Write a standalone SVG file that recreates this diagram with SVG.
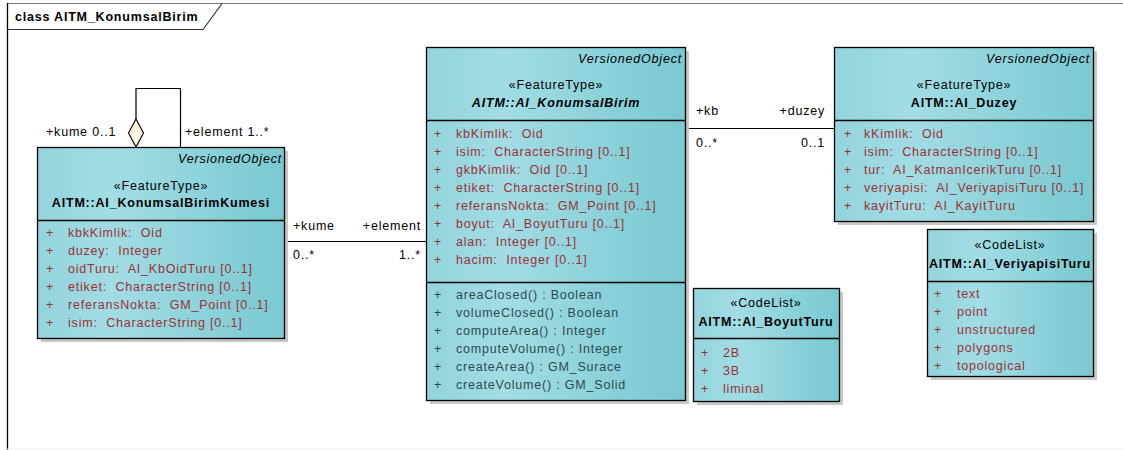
<svg xmlns="http://www.w3.org/2000/svg" width="1123" height="450" viewBox="0 0 1123 450">
  <defs>
    <linearGradient id="classFill" x1="0" y1="0" x2="1" y2="0">
      <stop offset="0" stop-color="#93D4DD"/>
      <stop offset="0.3" stop-color="#A2DCE5"/>
      <stop offset="1" stop-color="#79C9D1"/>
    </linearGradient>
  </defs>
  <style>
    text { font-family: "Liberation Sans", Arial, sans-serif; font-size: 12.5px; letter-spacing: 0.8px; fill: #000; white-space: pre; }
    .box { fill: url(#classFill); stroke: #000; stroke-width: 1.3; }
    .shadow { fill: #C8C8C8; }
    .div { stroke: #000; stroke-width: 1.3; }
    .attr { fill: #993333; }
    .op { fill: #2E4A50; }
    .it { font-style: italic; }
    .bold { font-weight: bold; }
    .mid { text-anchor: middle; }
    .end { text-anchor: end; }
    .conn { fill: none; stroke: #000; stroke-width: 1.2; }
  </style>

  <rect width="1123" height="450" fill="#FFFFFF"/>

  <!-- diagram frame -->
  <g id="frame">
    <line x1="7" y1="3.5" x2="1123" y2="3.5" stroke="#777" stroke-width="1.2"/>
    <line x1="7.5" y1="3" x2="7.5" y2="450" stroke="#000" stroke-width="1.3"/>
    <line x1="7" y1="449" x2="1123" y2="449" stroke="#EEE" stroke-width="1"/>
    <polyline points="7,29.5 203,29.5 222,3.5" fill="none" stroke="#333" stroke-width="1.2"/>
    <text x="15" y="21" class="bold">class AITM_KonumsalBirim</text>
  </g>

  <!-- connectors -->
  <g id="connectors">
    <!-- self aggregation on AI_KonumsalBirimKumesi -->
    <polyline class="conn" points="136,119 136,88.5 180.5,88.5 180.5,147"/>
    <polygon points="136,119 143.5,133 136,147 128.5,133" fill="#FDF3E3" stroke="#000" stroke-width="1.1"/>
    <text x="46" y="136">+kume 0..1</text>
    <text x="185" y="136">+element 1..*</text>

    <!-- kume / element -->
    <line class="conn" x1="284" y1="241.5" x2="426" y2="241.5"/>
    <text x="293" y="230">+kume</text>
    <text x="421" y="230" class="end">+element</text>
    <text x="293" y="259">0..*</text>
    <text x="421" y="259" class="end">1..*</text>

    <!-- kb / duzey -->
    <line class="conn" x1="685" y1="128.5" x2="834" y2="128.5"/>
    <text x="696" y="115">+kb</text>
    <text x="825" y="115" class="end">+duzey</text>
    <text x="696" y="147">0..*</text>
    <text x="825" y="147" class="end">0..1</text>
  </g>

  <!-- AI_KonumsalBirimKumesi -->
  <g id="AI_KonumsalBirimKumesi">
    <rect class="shadow" x="41" y="151" width="247" height="191"/>
    <rect class="box" x="37.5" y="147.5" width="247" height="191"/>
    <line class="div" x1="37.5" y1="220.5" x2="284.5" y2="220.5"/>
    <text x="282" y="163" class="it end">VersionedObject</text>
    <text x="161" y="190" class="mid">«FeatureType»</text>
    <text x="161" y="207" class="mid bold">AITM::AI_KonumsalBirimKumesi</text>
    <text x="46" y="237" class="attr">+</text><text x="68" y="237" class="attr">kbkKimlik:  Oid</text>
    <text x="46" y="255" class="attr">+</text><text x="68" y="255" class="attr">duzey:  Integer</text>
    <text x="46" y="273" class="attr">+</text><text x="68" y="273" class="attr">oidTuru:  AI_KbOidTuru [0..1]</text>
    <text x="46" y="291" class="attr">+</text><text x="68" y="291" class="attr">etiket:  CharacterString [0..1]</text>
    <text x="46" y="309" class="attr">+</text><text x="68" y="309" class="attr">referansNokta:  GM_Point [0..1]</text>
    <text x="46" y="327" class="attr">+</text><text x="68" y="327" class="attr">isim:  CharacterString [0..1]</text>
  </g>

  <!-- AI_KonumsalBirim -->
  <g id="AI_KonumsalBirim">
    <rect class="shadow" x="430" y="51" width="259" height="353"/>
    <rect class="box" x="426.5" y="47.5" width="259" height="353"/>
    <line class="div" x1="426.5" y1="120.5" x2="685.5" y2="120.5"/>
    <line class="div" x1="426.5" y1="282.5" x2="685.5" y2="282.5"/>
    <text x="682" y="63" class="it end">VersionedObject</text>
    <text x="556" y="89" class="mid">«FeatureType»</text>
    <text x="556" y="107" class="mid bold it">AITM::AI_KonumsalBirim</text>
    <text x="434" y="138" class="attr">+</text><text x="456" y="138" class="attr">kbKimlik:  Oid</text>
    <text x="434" y="156" class="attr">+</text><text x="456" y="156" class="attr">isim:  CharacterString [0..1]</text>
    <text x="434" y="174" class="attr">+</text><text x="456" y="174" class="attr">gkbKimlik:  Oid [0..1]</text>
    <text x="434" y="192" class="attr">+</text><text x="456" y="192" class="attr">etiket:  CharacterString [0..1]</text>
    <text x="434" y="210" class="attr">+</text><text x="456" y="210" class="attr">referansNokta:  GM_Point [0..1]</text>
    <text x="434" y="228" class="attr">+</text><text x="456" y="228" class="attr">boyut:  AI_BoyutTuru [0..1]</text>
    <text x="434" y="246" class="attr">+</text><text x="456" y="246" class="attr">alan:  Integer [0..1]</text>
    <text x="434" y="264" class="attr">+</text><text x="456" y="264" class="attr">hacim:  Integer [0..1]</text>
    <text x="434" y="299" class="op">+</text><text x="456" y="299" class="op">areaClosed() : Boolean</text>
    <text x="434" y="317" class="op">+</text><text x="456" y="317" class="op">volumeClosed() : Boolean</text>
    <text x="434" y="335" class="op">+</text><text x="456" y="335" class="op">computeArea() : Integer</text>
    <text x="434" y="353" class="op">+</text><text x="456" y="353" class="op">computeVolume() : Integer</text>
    <text x="434" y="371" class="op">+</text><text x="456" y="371" class="op">createArea() : GM_Surace</text>
    <text x="434" y="389" class="op">+</text><text x="456" y="389" class="op">createVolume() : GM_Solid</text>
  </g>

  <!-- AI_Duzey -->
  <g id="AI_Duzey">
    <rect class="shadow" x="838" y="51" width="259" height="174"/>
    <rect class="box" x="834.5" y="47.5" width="259" height="174"/>
    <line class="div" x1="834.5" y1="120.5" x2="1093.5" y2="120.5"/>
    <text x="1090" y="63" class="it end">VersionedObject</text>
    <text x="964" y="89" class="mid">«FeatureType»</text>
    <text x="964" y="107" class="mid bold">AITM::AI_Duzey</text>
    <text x="844" y="138" class="attr">+</text><text x="864" y="138" class="attr">kKimlik:  Oid</text>
    <text x="844" y="156" class="attr">+</text><text x="864" y="156" class="attr">isim:  CharacterString [0..1]</text>
    <text x="844" y="174" class="attr">+</text><text x="864" y="174" class="attr">tur:  AI_KatmanIcerikTuru [0..1]</text>
    <text x="844" y="192" class="attr">+</text><text x="864" y="192" class="attr">veriyapisi:  AI_VeriyapisiTuru [0..1]</text>
    <text x="844" y="210" class="attr">+</text><text x="864" y="210" class="attr">kayitTuru:  AI_KayitTuru</text>
  </g>

  <!-- AI_BoyutTuru -->
  <g id="AI_BoyutTuru">
    <rect class="shadow" x="697" y="292" width="146" height="113"/>
    <rect class="box" x="693.5" y="288.5" width="146" height="113"/>
    <line class="div" x1="693.5" y1="338.5" x2="839.5" y2="338.5"/>
    <text x="766" y="307" class="mid">«CodeList»</text>
    <text x="766" y="326" class="mid bold">AITM::AI_BoyutTuru</text>
    <text x="701" y="357" class="attr">+</text><text x="723" y="357" class="attr">2B</text>
    <text x="701" y="375" class="attr">+</text><text x="723" y="375" class="attr">3B</text>
    <text x="701" y="393" class="attr">+</text><text x="723" y="393" class="attr">liminal</text>
  </g>

  <!-- AI_VeriyapisiTuru -->
  <g id="AI_VeriyapisiTuru">
    <rect class="shadow" x="931" y="233" width="166" height="147"/>
    <rect class="box" x="927.5" y="229.5" width="166" height="147"/>
    <line class="div" x1="927.5" y1="281.5" x2="1093.5" y2="281.5"/>
    <text x="1010" y="249" class="mid">«CodeList»</text>
    <text x="1010" y="268" class="mid bold">AITM::AI_VeriyapisiTuru</text>
    <text x="934" y="298" class="attr">+</text><text x="957" y="298" class="attr">text</text>
    <text x="934" y="316" class="attr">+</text><text x="957" y="316" class="attr">point</text>
    <text x="934" y="334" class="attr">+</text><text x="957" y="334" class="attr">unstructured</text>
    <text x="934" y="352" class="attr">+</text><text x="957" y="352" class="attr">polygons</text>
    <text x="934" y="370" class="attr">+</text><text x="957" y="370" class="attr">topological</text>
  </g>
</svg>
